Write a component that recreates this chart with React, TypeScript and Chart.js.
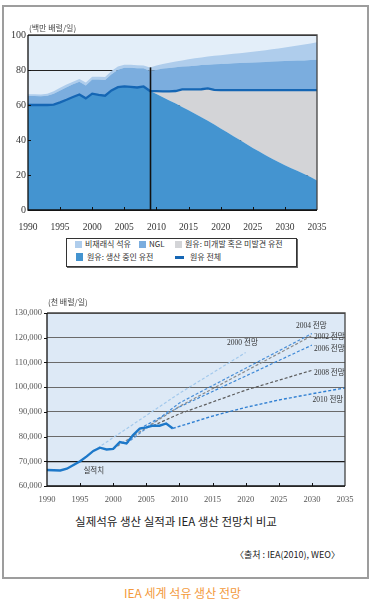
import React, { useEffect, useRef } from "react";
import { Chart, registerables } from "chart.js";

Chart.register(...registerables);

// ---------- Top chart data (백만 배럴/일) ----------
const years = [
  1990, 1991, 1992, 1993, 1994, 1995, 1996, 1997, 1998, 1999,
  2000, 2001, 2002, 2003, 2004, 2005, 2006, 2007, 2008, 2009,
  2010, 2011, 2012, 2013, 2014, 2015, 2016, 2017, 2018, 2019,
  2020, 2021, 2022, 2023, 2024, 2025, 2026, 2027, 2028, 2029,
  2030, 2031, 2032, 2033, 2034, 2035,
];
// 원유: 생산 중인 유전 (top of layer)
const producingFields = [
  60, 60, 60, 60, 60.2, 61.5, 63, 64.6, 66, 63.8,
  66.5, 65.8, 65.3, 68.3, 70.2, 70.6, 70.4, 70, 70.6, 68,
  66.3, 64.4, 62.6, 60.8, 58.9, 57, 55, 53, 51, 48.8,
  46.6, 44.4, 42.2, 40, 37.7, 35.5, 33.4, 31.3, 29.3, 27.4,
  25.6, 23.9, 22.3, 20.6, 18.8, 16.8,
];
// 원유 전체
const crudeTotal = [
  60, 60, 60, 60, 60.2, 61.5, 63, 64.6, 66, 63.8,
  66.5, 65.8, 65.3, 68.3, 70.2, 70.6, 70.4, 70, 70.6, 68,
  67.9, 67.8, 67.8, 68.0, 68.9, 68.9, 68.9, 69.0, 69.5, 68.6,
  68.5, 68.5, 68.5, 68.5, 68.5, 68.5, 68.5, 68.5, 68.5, 68.5,
  68.5, 68.5, 68.5, 68.5, 68.5, 68.5,
];
// 원유 + NGL (top of NGL layer)
const crudeAndNGL = [
  65.2, 65.2, 65.0, 65.3, 66.5, 68.3, 70.2, 71.8, 73.3, 71.2,
  74.6, 74.6, 74.3, 77.6, 80.2, 81.3, 81.3, 81.0, 81.0, 79.4,
  80.1, 80.8, 81.2, 81.6, 82.0, 82.2, 82.5, 82.8, 83.0, 83.3,
  83.4, 83.6, 83.8, 84.0, 84.1, 84.3, 84.5, 84.6, 84.8, 85.0,
  85.1, 85.3, 85.4, 85.5, 85.7, 85.8,
];
// 원유 + NGL + 비재래식 석유 (total)
const totalLiquids = [
  66.2, 66.2, 66.0, 66.4, 67.8, 69.8, 71.7, 73.3, 74.8, 72.8,
  76.2, 76.2, 76.0, 79.4, 82.0, 83.0, 83.0, 82.7, 82.6, 81.5,
  82.6, 83.5, 84.2, 84.9, 85.5, 86.1, 86.7, 87.2, 87.7, 88.1,
  88.5, 88.9, 89.3, 89.6, 90.0, 90.4, 90.8, 91.3, 91.8, 92.3,
  92.8, 93.4, 94.0, 94.6, 95.2, 95.8,
];
const forecastStartYear = 2009;

// ---------- Bottom chart data (천 배럴/일) ----------
const actualYears = [
  1990, 1991, 1992, 1993, 1994, 1995, 1996, 1997, 1998, 1999,
  2000, 2001, 2002, 2003, 2004, 2005, 2006, 2007, 2008, 2009,
];
const actualValues = [
  66500, 66400, 66300, 67000, 68500, 70000, 72000, 74200, 75500, 74800,
  75000, 77800, 77200, 80600, 83200, 83700, 84400, 84400, 85300, 83300,
];
const proj2000Years = [1997, 2010, 2020];
const proj2000Values = [74200, 97500, 114000];
const proj2002Years = [2000, 2010, 2030];
const proj2002Values = [75000, 92200, 120800];
const proj2004Years = [2002, 2010, 2030];
const proj2004Values = [77200, 93600, 121700];
const proj2006Years = [2004, 2010, 2030];
const proj2006Values = [83200, 92000, 117000];
const proj2008Years = [2006, 2010, 2020, 2030];
const proj2008Values = [84400, 89200, 98800, 106800];
const proj2010Years = [2009, 2015, 2020, 2025, 2030, 2035];
const proj2010Values = [83300, 88300, 91800, 94800, 97300, 99700];

const annotationTexts = ["2000 전망", "2004 전망", "2002 전망", "2006 전망", "2008 전망", "2010 전망", "실적치"];
const annotationYears = [2017.2, 2027.6, 2030.3, 2030.3, 2030.3, 2030.1, 1995.5];
const annotationValues = [117900, 124600, 120300, 115600, 105700, 94900, 66200];

const SERIF = "'Liberation Serif', 'DejaVu Serif', 'Noto Sans CJK KR', serif";
const KR = "'Noto Sans CJK KR', sans-serif";

const C = {
  topBg: "#e3eef9",
  unconv: "#afcdec",
  ngl: "#7badde",
  gray: "#d3d4d7",
  producing: "#4494d0",
  crudeLine: "#1566b4",
  botBg: "#dde9f6",
};

function pts(xs: number[], ys: number[]) {
  return xs.map((x, i) => ({ x, y: ys[i] }));
}

function TopChart() {
  const ref = useRef<HTMLCanvasElement>(null);
  useEffect(() => {
    const area = (label: string, ys: number[], fill: any, color: string) => ({
      label,
      data: pts(years, ys),
      fill,
      backgroundColor: color,
      borderColor: "rgba(0,0,0,0)",
      borderWidth: 0,
      pointRadius: 0,
      tension: 0,
    });
    const plugin = {
      id: "topDeco",
      beforeDraw(chart: any) {
        const { ctx, chartArea: a } = chart;
        ctx.save();
        ctx.fillStyle = C.topBg;
        ctx.fillRect(a.left, a.top, a.right - a.left, a.bottom - a.top);
        ctx.restore();
      },
      afterDatasetsDraw(chart: any) {
        const { ctx, chartArea: a, scales } = chart;
        const x = scales.x, y = scales.y;
        ctx.save();
        // forecast divider
        const idx = years.indexOf(forecastStartYear);
        const vx = Math.round(x.getPixelForValue(forecastStartYear)) + 0.5;
        ctx.strokeStyle = "#111";
        ctx.lineWidth = 1.6;
        ctx.beginPath();
        ctx.moveTo(vx, y.getPixelForValue(0));
        ctx.lineTo(vx, y.getPixelForValue(totalLiquids[idx]));
        ctx.stroke();
        // frame
        ctx.lineWidth = 1.3;
        ctx.strokeStyle = "#444";
        ctx.beginPath();
        ctx.moveTo(a.left, a.top);
        ctx.lineTo(a.right, a.top);
        ctx.lineTo(a.right, a.bottom);
        ctx.stroke();
        ctx.strokeStyle = "#111";
        ctx.beginPath();
        ctx.moveTo(a.left, a.top);
        ctx.lineTo(a.left, a.bottom);
        ctx.lineTo(a.right, a.bottom);
        ctx.stroke();
        // inward ticks
        ctx.lineWidth = 1;
        ctx.beginPath();
        for (let v = 1995; v <= 2030; v += 5) {
          const px = Math.round(x.getPixelForValue(v)) + 0.5;
          ctx.moveTo(px, a.bottom);
          ctx.lineTo(px, a.bottom - 3);
        }
        for (let v = 20; v <= 80; v += 20) {
          const py = Math.round(y.getPixelForValue(v)) + 0.5;
          ctx.moveTo(a.left, py);
          ctx.lineTo(a.left + 3, py);
        }
        ctx.stroke();
        // unit title
        ctx.fillStyle = "#444";
        ctx.font = `8px ${KR}`;
        ctx.textAlign = "left";
        ctx.textBaseline = "middle";
        ctx.fillText("(백만 배럴/일)", a.left + 1, a.top - 7);
        ctx.restore();
      },
    };
    const chart = new Chart(ref.current!, {
      type: "line",
      data: {
        datasets: [
          area("원유: 생산 중인 유전", producingFields, "origin", C.producing),
          area("원유: 미개발 혹은 미발견 유전", crudeTotal, "-1", C.gray),
          area("NGL", crudeAndNGL, "-1", C.ngl),
          area("비재래식 석유", totalLiquids, "-1", C.unconv),
          {
            label: "원유 전체",
            data: pts(years, crudeTotal),
            fill: false,
            borderColor: C.crudeLine,
            borderWidth: 2.3,
            pointRadius: 0,
            tension: 0,
            order: -1,
          } as any,
        ],
      },
      options: {
        animation: false,
        responsive: false,
        devicePixelRatio: 1,
        layout: { padding: { top: 35, right: 57, left: 0, bottom: 0 } },
        plugins: { legend: { display: false }, tooltip: { enabled: false } },
        scales: {
          x: {
            type: "linear",
            min: 1990,
            max: 2035,
            grid: { display: false },
            border: { display: false },
            ticks: { stepSize: 5, color: "#333", font: { family: SERIF, size: 9.5 }, padding: 4, maxRotation: 0, callback: (v: any) => String(v) },
            afterFit: (s: any) => { s.height = 22; },
          },
          y: {
            min: 0,
            max: 100,
            grid: { display: true, color: "#222", lineWidth: 1, drawTicks: false },
            border: { display: false },
            ticks: { stepSize: 20, color: "#333", font: { family: SERIF, size: 10 }, padding: 2 },
            afterFit: (s: any) => { s.width = 28; },
          },
        },
      } as any,
      plugins: [plugin],
    });
    return () => chart.destroy();
  }, []);
  return (
    <canvas ref={ref} width={374} height={232} style={{ position: "absolute", left: 0, top: 0, display: "block" }} />
  );
}

function BottomChart() {
  const ref = useRef<HTMLCanvasElement>(null);
  useEffect(() => {
    const proj = (label: string, xs: number[], ys: number[], color: string, w = 1.2) => ({
      label,
      data: pts(xs, ys),
      fill: false,
      borderColor: color,
      borderWidth: w,
      borderDash: [3, 2],
      pointRadius: 0,
      tension: 0,
    });
    const plugin = {
      id: "botDeco",
      beforeDraw(chart: any) {
        const { ctx, chartArea: a } = chart;
        ctx.save();
        ctx.fillStyle = C.botBg;
        ctx.fillRect(a.left, a.top, a.right - a.left, a.bottom - a.top);
        ctx.restore();
      },
      afterDatasetsDraw(chart: any) {
        const { ctx, chartArea: a, scales } = chart;
        const x = scales.x, y = scales.y;
        ctx.save();
        ctx.lineWidth = 1.3;
        ctx.strokeStyle = "#444";
        ctx.beginPath();
        ctx.moveTo(a.left, a.top);
        ctx.lineTo(a.right, a.top);
        ctx.lineTo(a.right, a.bottom);
        ctx.stroke();
        ctx.strokeStyle = "#111";
        ctx.beginPath();
        ctx.moveTo(a.left, a.top);
        ctx.lineTo(a.left, a.bottom);
        ctx.lineTo(a.right, a.bottom);
        ctx.stroke();
        ctx.lineWidth = 1;
        ctx.beginPath();
        for (let v = 1995; v <= 2030; v += 5) {
          const px = Math.round(x.getPixelForValue(v)) + 0.5;
          ctx.moveTo(px, a.bottom);
          ctx.lineTo(px, a.bottom - 3);
        }
        for (let v = 60000; v <= 130000; v += 10000) {
          const py = Math.round(y.getPixelForValue(v)) + 0.5;
          ctx.moveTo(a.left - 3, py);
          ctx.lineTo(a.left, py);
        }
        ctx.stroke();
        ctx.fillStyle = "#333";
        ctx.font = `7.5px ${SERIF}`;
        ctx.textAlign = "left";
        ctx.textBaseline = "middle";
        annotationTexts.forEach((t, i) => {
          ctx.fillText(t, x.getPixelForValue(annotationYears[i]), y.getPixelForValue(annotationValues[i]));
        });
        ctx.fillStyle = "#444";
        ctx.font = `8px ${KR}`;
        ctx.fillText("(천 배럴/일)", a.left + 1, a.top - 11);
        ctx.restore();
      },
    };
    const chart = new Chart(ref.current!, {
      type: "line",
      data: {
        datasets: [
          {
            label: "실적치",
            data: pts(actualYears, actualValues),
            fill: false,
            borderColor: "#1d78c9",
            borderWidth: 2.4,
            pointRadius: 0,
            tension: 0,
            order: -1,
          } as any,
          proj("2000 전망", proj2000Years, proj2000Values, "#a3c9ec"),
          proj("2002 전망", proj2002Years, proj2002Values, "#8a8a8a"),
          proj("2004 전망", proj2004Years, proj2004Values, "#4a8fd8"),
          proj("2006 전망", proj2006Years, proj2006Values, "#3d88d6"),
          proj("2008 전망", proj2008Years, proj2008Values, "#5c5c5c"),
          proj("2010 전망", proj2010Years, proj2010Values, "#2f7fd2", 1.4),
        ],
      },
      options: {
        animation: false,
        responsive: false,
        devicePixelRatio: 1,
        layout: { padding: { top: 23, right: 29, left: 0, bottom: 0 } },
        plugins: { legend: { display: false }, tooltip: { enabled: false } },
        scales: {
          x: {
            type: "linear",
            min: 1990,
            max: 2035,
            grid: { display: false },
            border: { display: false },
            ticks: { stepSize: 5, color: "#555", font: { family: SERIF, size: 8.5 }, padding: 1, maxRotation: 0, callback: (v: any) => String(v) },
            afterFit: (s: any) => { s.height = 16; },
          },
          y: {
            min: 60000,
            max: 130000,
            grid: {
              display: true,
              drawTicks: false,
              color: (c: any) => (c.tick && c.tick.value === 70000 ? "#1a1a1a" : "#6a6a6a"),
              lineWidth: (c: any) => (c.tick && c.tick.value === 70000 ? 1.3 : 1),
            },
            border: { display: false },
            ticks: {
              stepSize: 10000,
              color: "#555",
              font: { family: SERIF, size: 8.5 },
              padding: 5,
              callback: (v: any) => Number(v).toLocaleString("en-US"),
            },
            afterFit: (s: any) => { s.width = 47; },
          },
        },
      } as any,
      plugins: [plugin],
    });
    return () => chart.destroy();
  }, []);
  return (
    <canvas ref={ref} width={374} height={212} style={{ position: "absolute", left: 0, top: 290, display: "block" }} />
  );
}

function Swatch({ left, top, w, h, color }: { left: number; top: number; w: number; h: number; color: string }) {
  return <div style={{ position: "absolute", left, top, width: w, height: h, background: color }} />;
}

function LegendText({ left, top, text }: { left: number; top: number; text: string }) {
  return (
    <div style={{ position: "absolute", left, top: top - 6, height: 12, lineHeight: "12px", fontSize: 8, color: "#333", fontFamily: KR, whiteSpace: "nowrap" }}>
      {text}
    </div>
  );
}

function Legend() {
  return (
    <div>
      <div style={{ position: "absolute", left: 66, top: 238, width: 231, height: 29, border: "1px solid #333", boxShadow: "1px 1px 0 #666", boxSizing: "border-box", background: "#fff" }} />
      <Swatch left={75} top={241} w={7} h={7} color={C.unconv} />
      <LegendText left={85} top={244} text="비재래식 석유" />
      <Swatch left={139} top={241} w={7} h={7} color={C.ngl} />
      <LegendText left={149} top={244} text="NGL" />
      <Swatch left={175} top={241} w={7} h={7} color={C.gray} />
      <LegendText left={185} top={244} text="원유: 미개발 혹은 미발견 유전" />
      <Swatch left={76} top={253} w={7} h={8} color={C.producing} />
      <LegendText left={87} top={257} text="원유: 생산 중인 유전" />
      <Swatch left={175} top={256} w={9} h={2.5} color={C.crudeLine} />
      <LegendText left={190} top={257} text="원유 전체" />
    </div>
  );
}

export default function App() {
  return (
    <div style={{ position: "fixed", left: 0, top: 0, width: 374, height: 606, background: "#fff", overflow: "hidden", fontFamily: KR }}>
      <div style={{ position: "absolute", left: 2, top: 5, width: 367, height: 574, border: "2px solid #9d9d9d", boxSizing: "border-box" }} />
      <TopChart />
      <Legend />
      <BottomChart />
      <div style={{ position: "absolute", left: 0, top: 513, width: 352, textAlign: "center", fontSize: 11.5, lineHeight: "16px", color: "#222", whiteSpace: "nowrap" }}>
        실제석유 생산 실적과 IEA 생산 전망치 비교
      </div>
      <div style={{ position: "absolute", left: 0, top: 548, width: 340, textAlign: "right", fontSize: 9, lineHeight: "14px", color: "#222", whiteSpace: "nowrap" }}>
        〈출처 : IEA(2010), WEO〉
      </div>
      <div style={{ position: "absolute", left: 0, top: 584, width: 365, textAlign: "center", fontSize: 12, lineHeight: "17px", color: "#f39a3c", whiteSpace: "nowrap" }}>
        IEA 세계 석유 생산 전망
      </div>
    </div>
  );
}
